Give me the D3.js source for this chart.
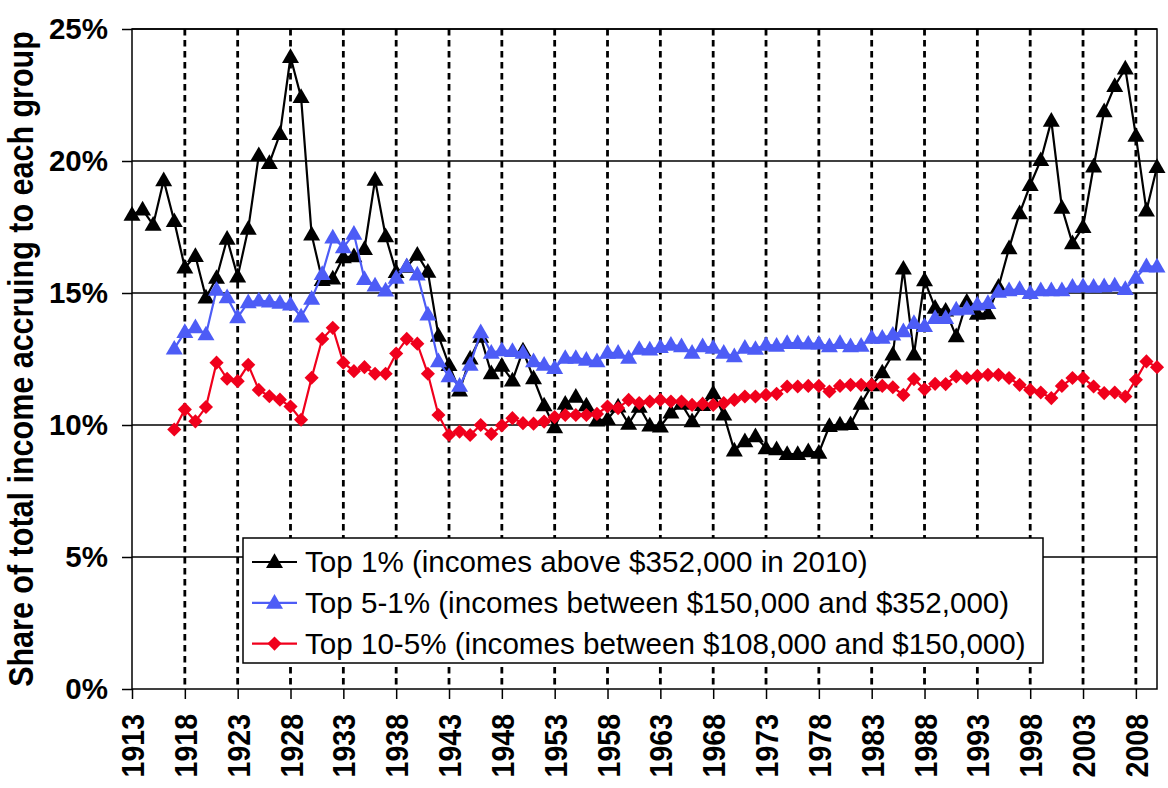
<!DOCTYPE html>
<html>
<head>
<meta charset="utf-8">
<script src="https://cdn.jsdelivr.net/npm/d3@7"></script>
<style>
  body { margin: 0; background: #fff; }
  svg { display: block; font-family: "Liberation Sans", Arial, sans-serif; }
</style>
</head>
<body>
<svg id="chart" width="1168" height="788"></svg>
<script>
// Years on the category axis
var years = d3.range(1913, 2011);
var yTicks = [0, 5, 10, 15, 20, 25];
var xTicks = d3.range(1913, 2011, 5);

// Top 1% share (%), 1913-2010
var top1 = [
  17.96, 18.16, 17.58, 19.27, 17.72, 15.96, 16.40,                      // 1913-1919
  14.83, 15.57, 17.05, 15.62, 17.43, 20.22, 19.92, 21.02, 23.94, 22.42, // 1920s
  17.21, 15.49, 15.55, 16.35, 16.39, 16.66, 19.29, 17.15, 15.79, 15.99, // 1930s
  16.45, 15.80, 13.38, 12.27, 11.30, 12.52, 13.34, 11.96, 12.24, 11.68, // 1940s
  12.82, 11.77, 10.74, 9.91, 10.80, 11.07, 10.74, 10.17, 10.22, 10.70,  // 1950s
  10.04, 10.69, 9.98, 9.94, 10.47, 10.80, 10.14, 10.75, 11.20, 10.39,   // 1960s
  9.03, 9.38, 9.57, 9.12, 9.08, 8.90, 8.90, 9.00, 8.95, 9.96,           // 1970s
  10.02, 10.03, 10.80, 11.50, 11.99, 12.67, 15.92, 12.67, 15.48, 14.44, // 1980s
  14.33, 13.36, 14.67, 14.21, 14.23, 15.23, 16.69, 18.02, 19.09, 20.03, // 1990s
  21.52, 18.23, 16.88, 17.50, 19.79, 21.88, 22.84, 23.50, 20.95, 18.12, // 2000s
  19.77                                                                 // 2010
];

// Top 5-1% share (%), starts in 1917
var top5to1 = [
  null, null, null, null, 12.89, 13.52, 13.70,
  13.43, 15.12, 14.84, 14.08, 14.65, 14.71, 14.67, 14.63, 14.56, 14.11,
  14.78, 15.72, 17.10, 16.73, 17.24, 15.53, 15.28, 15.09, 15.57, 16.01,
  15.70, 14.18, 12.41, 11.84, 11.48, 12.28, 13.51, 12.73, 12.83, 12.80,
  12.73, 12.41, 12.28, 12.16, 12.54, 12.54, 12.47, 12.41, 12.73, 12.73,
  12.54, 12.88, 12.86, 12.95, 13.04, 12.98, 12.73, 12.98, 12.92, 12.73,
  12.60, 12.92, 12.88, 13.04, 13.00, 13.10, 13.10, 13.08, 13.08, 12.98,
  13.10, 12.98, 13.00, 13.30, 13.30, 13.42, 13.55, 13.86, 13.75, 14.05,
  14.05, 14.37, 14.40, 14.56, 14.62, 15.04, 15.10, 15.15, 15.00, 15.10,
  15.10, 15.10, 15.23, 15.25, 15.23, 15.25, 15.28, 15.15, 15.57, 16.01,
  16.00
];

// Top 10-5% share (%), starts in 1917
var top10to5 = [
  null, null, null, null, 9.83, 10.59, 10.14,
  10.68, 12.36, 11.75, 11.66, 12.28, 11.33, 11.09, 10.96, 10.70, 10.20,
  11.79, 13.26, 13.68, 12.36, 12.04, 12.19, 11.94, 11.94, 12.71, 13.26,
  13.08, 11.94, 10.38, 9.62, 9.75, 9.62, 10.00, 9.66, 9.98, 10.26,
  10.07, 10.05, 10.13, 10.30, 10.38, 10.38, 10.38, 10.42, 10.70, 10.64,
  10.95, 10.83, 10.89, 10.95, 10.89, 10.89, 10.76, 10.80, 10.76, 10.83,
  10.95, 11.08, 11.08, 11.14, 11.18, 11.46, 11.46, 11.48, 11.48, 11.27,
  11.48, 11.52, 11.52, 11.52, 11.48, 11.43, 11.14, 11.74, 11.35, 11.56,
  11.55, 11.84, 11.78, 11.86, 11.90, 11.90, 11.78, 11.52, 11.33, 11.23,
  11.02, 11.48, 11.78, 11.78, 11.46, 11.21, 11.23, 11.08, 11.71, 12.41,
  12.19
];

var seriesNames = [
  "Top 1% (incomes above $352,000 in 2010)",
  "Top 5-1% (incomes between $150,000 and $352,000)",
  "Top 10-5% (incomes between $108,000 and $150,000)"
];

var seriesColors = ["#000000", "#4d5cf6", "#f0001c"];

var series = [
  { name: seriesNames[0], values: top1, color: seriesColors[0], shape: "triangle" },
  { name: seriesNames[1], values: top5to1, color: seriesColors[1], shape: "triangle" },
  { name: seriesNames[2], values: top10to5, color: seriesColors[2], shape: "diamond" }
];

// Plot box (note: "top" is reserved on window, so use plot* names)
var svg = d3.select("#chart"),
    plotLeft = 132, plotRight = 1157, plotTop = 29, plotBottom = 689;

var x = d3.scaleLinear().domain([1913, 2010]).range([plotLeft, plotRight]);
var y = d3.scaleLinear().domain([0, 25]).range([plotBottom, plotTop]);

// Marker shapes
function markerPath(shape) {
  if (shape === "diamond") return d3.symbol().type(d3.symbolSquare).size(100)();
  return d3.symbol().type(d3.symbolTriangle).size(125)();
}
function markerTransform(shape, px, py) {
  if (shape === "diamond") return "translate(" + px + "," + py + ") rotate(45)";
  return "translate(" + px + "," + (py + 1) + ")";
}

// Horizontal gridlines
svg.append("g")
  .selectAll("line")
  .data(yTicks.slice(1))
  .enter().append("line")
  .attr("x1", plotLeft).attr("x2", plotRight)
  .attr("y1", function (d) { return y(d); })
  .attr("y2", function (d) { return y(d); })
  .attr("stroke", "#000")
  .attr("stroke-width", 1.4);

// Dotted vertical gridlines every 5 years
svg.append("g")
  .selectAll("line")
  .data(xTicks.slice(1))
  .enter().append("line")
  .attr("x1", function (d) { return x(d); })
  .attr("x2", function (d) { return x(d); })
  .attr("y1", plotTop).attr("y2", plotBottom)
  .attr("stroke", "#000")
  .attr("stroke-width", 2.8)
  .attr("stroke-dasharray", "6.5,4.5");

// Plot frame
svg.append("rect")
  .attr("x", plotLeft).attr("y", plotTop)
  .attr("width", plotRight - plotLeft).attr("height", plotBottom - plotTop)
  .attr("fill", "none")
  .attr("stroke", "#000")
  .attr("stroke-width", 1.5);

// Axes
var yAxis = svg.append("g")
  .attr("transform", "translate(" + plotLeft + ",0)")
  .call(d3.axisLeft(y).tickValues(yTicks).tickSize(10).tickPadding(14)
    .tickFormat(function (d) { return d + "%"; }));

var xAxis = svg.append("g")
  .attr("transform", "translate(0," + plotBottom + ")")
  .call(d3.axisBottom(x).tickValues(xTicks).tickSize(10).tickFormat(d3.format("d")));

yAxis.select(".domain").remove();
xAxis.select(".domain").remove();
svg.selectAll(".tick line").attr("stroke", "#000").attr("stroke-width", 1.5);

yAxis.selectAll(".tick text")
  .attr("fill", "#000")
  .attr("font-size", 29.5)
  .attr("font-weight", "bold")
  .attr("font-family", "'Liberation Sans', Arial, sans-serif");

// Rotated labels look slightly wide in the original, hence the x stretch
xAxis.selectAll(".tick text")
  .attr("fill", "#000")
  .attr("font-size", 28.5)
  .attr("font-weight", "bold")
  .attr("font-family", "'Liberation Sans', Arial, sans-serif")
  .attr("text-anchor", "end")
  .attr("transform", "scale(1.12,1) rotate(-90)")
  .attr("x", -25)
  .attr("y", 0)
  .attr("dy", "0.36em");

// Y axis title
svg.append("text")
  .attr("transform", "translate(33," + (plotTop + plotBottom) / 2 + ") scale(1.12,1) rotate(-90)")
  .attr("text-anchor", "middle")
  .attr("font-size", 30.5)
  .attr("font-weight", "bold")
  .attr("fill", "#000")
  .text("Share of total income accruing to each group");

// Series: line then markers
var line = d3.line()
  .defined(function (d) { return d != null; })
  .x(function (d, i) { return x(years[i]); })
  .y(function (d) { return y(d); });

series.forEach(function (s) {
  var g = svg.append("g");
  g.append("path")
    .attr("d", line(s.values))
    .attr("fill", "none")
    .attr("stroke", s.color)
    .attr("stroke-width", 2.2);

  g.selectAll("path.marker")
    .data(s.values.map(function (v, i) { return { year: years[i], value: v }; })
      .filter(function (d) { return d.value != null; }))
    .enter().append("path")
    .attr("class", "marker")
    .attr("d", markerPath(s.shape))
    .attr("transform", function (d) { return markerTransform(s.shape, x(d.year), y(d.value)); })
    .attr("fill", s.color);
});

// Legend
var legend = svg.append("g");
legend.append("rect")
  .attr("x", 243).attr("y", 538)
  .attr("width", 800).attr("height", 125)
  .attr("fill", "#fff")
  .attr("stroke", "#000")
  .attr("stroke-width", 1.5);

var item = legend.selectAll("g.item")
  .data(series)
  .enter().append("g")
  .attr("class", "item")
  .attr("transform", function (d, i) { return "translate(0," + (562 + i * 40.8) + ")"; });

item.append("line")
  .attr("x1", 252).attr("x2", 297)
  .attr("stroke", function (d) { return d.color; })
  .attr("stroke-width", 2.2);

item.append("path")
  .attr("d", function (d) { return markerPath(d.shape); })
  .attr("transform", function (d) { return markerTransform(d.shape, 274.5, 0); })
  .attr("fill", function (d) { return d.color; });

item.append("text")
  .attr("x", 305)
  .attr("y", 10)
  .attr("font-size", 29.6)
  .attr("fill", "#000")
  .text(function (d) { return d.name; });
</script>
</body>
</html>
